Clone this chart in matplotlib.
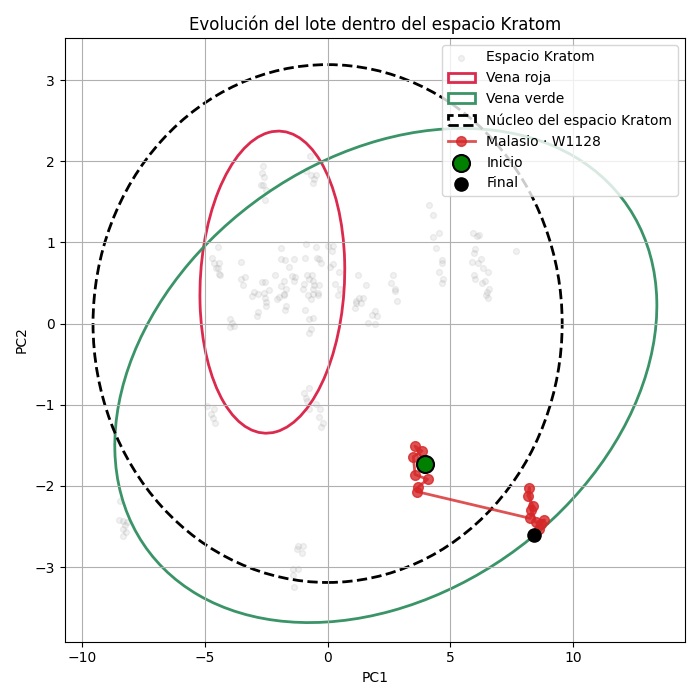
import numpy as np
import matplotlib
matplotlib.use('Agg')
import matplotlib.pyplot as plt
from matplotlib.patches import Ellipse

# --- Data ---
# Espacio Kratom (reference cloud)
space_x = [
    -2.65, -2.68, -2.60, -2.73, -2.65, -2.49, -2.55,
    -0.72, -0.88, -0.68, -0.48, -0.54, -0.58,
    -4.48, -4.69, -4.62, -4.44, -4.55, -4.47, -4.42, -4.39,
    -3.53, -3.53, -3.36, -3.44, -3.99, -3.91, -3.80, -3.97,
    -2.99, -3.06, -2.85, -2.68, -2.54, -2.57, -2.54, -2.52, -2.52, -2.38,
    -2.85, -2.88, -2.16, -2.04, -1.98, -1.79, -1.77, -1.90, -1.79, -1.70,
    -1.88, -1.90, -1.73, -1.59, -1.35, -1.45, -1.35, -1.32, -1.70, -1.74,
    -0.88, -0.90, -0.48, -0.42, -0.34, -0.26, -0.82, -0.64, -0.75, -0.61,
    -0.95, -1.02, -0.80, -0.69, -0.58, -0.41, -0.41, -0.54, -0.34, -0.61,
    -0.90, -0.77, -0.61, -0.68, -0.75,
    0.01, 0.20, 0.18, 0.23, 0.10, 0.45, 0.31, 0.50, 0.41,
    1.22, 1.55, 1.13, 1.15, 1.29, 1.45, 1.37, 1.15, 1.81, 1.92, 2.00, 1.63, 1.92,
    2.65, 2.57, 2.73, 2.74, 2.81,
    4.14, 4.28, 4.52, 4.28, 4.40, 4.65, 4.65, 4.55, 4.71, 4.65,
    5.91, 6.18, 6.10, 6.00, 5.95, 5.87, 6.11, 6.24, 6.32, 6.52, 5.98, 6.01,
    6.39, 6.30, 6.59, 6.49, 6.45, 6.53, 7.65,
    -4.89, -4.62, -4.76, -4.66, -4.58,
    -0.96, -0.75, -0.88, -0.82, -0.75, -0.48, -0.30, -0.37, -0.20, -0.26,
    -8.45, -8.48, -8.34, -8.18, -8.25, -8.32, -8.21, -8.34,
    -1.19, -1.01, -1.23, -1.05, -1.39, -1.19, -1.42, -1.35,
]
space_y = [
    1.94, 1.86, 1.80, 1.71, 1.71, 1.64, 1.52,
    2.07, 1.88, 1.83, 1.83, 1.78, 1.73,
    0.94, 0.81, 0.75, 0.74, 0.69, 0.68, 0.61, 0.60,
    0.76, 0.55, 0.57, 0.47, 0.06, 0.01, -0.03, -0.04,
    0.39, 0.34, 0.36, 0.51, 0.51, 0.38, 0.32, 0.26, 0.22, 0.41,
    0.14, 0.09, 0.60, 0.30, 0.33, 0.35, 0.36, 0.46, 0.52, 0.42,
    0.93, 0.80, 0.78, 0.70, 0.79, 0.59, 0.52, 0.57, 0.21, 0.17,
    0.98, 0.81, 0.94, 0.81, 0.79, 0.75, 0.60, 0.60, 0.55, 0.53,
    0.49, 0.43, 0.35, 0.30, 0.37, 0.35, 0.38, 0.48, 0.48, 0.42,
    0.17, 0.06, 0.07, -0.07, -0.12,
    0.95, 0.95, 0.89, 0.73, 0.70, 0.64, 0.49, 0.43, 0.35,
    0.60, 0.48, 0.19, 0.25, 0.32, 0.32, 0.25, 0.28, 0.10, 0.15, 0.09, 0.01, -0.01,
    0.60, 0.50, 0.43, 0.40, 0.28,
    1.46, 1.34, 1.12, 1.07, 0.93, 0.78, 0.74, 0.64, 0.55, 0.50,
    1.12, 1.09, 1.08, 0.92, 0.87, 0.76, 0.75, 0.79, 0.69, 0.63, 0.60, 0.55,
    0.52, 0.50, 0.42, 0.39, 0.35, 0.31, 0.89,
    -1.02, -1.05, -1.12, -1.16, -1.23,
    -0.85, -0.80, -0.92, -0.96, -1.05, -0.99, -1.05, -1.15, -1.23, -1.27,
    -2.19, -2.42, -2.43, -2.45, -2.48, -2.53, -2.57, -2.62,
    -2.74, -2.74, -2.78, -2.83, -3.02, -3.03, -3.10, -3.24,
]

# Ellipses: center, width, height, angle
red_center = (-2.25, 0.51)
red_size = (5.91, 3.70)
red_angle = 5.0

green_center = (2.37, -0.64)
green_size = (22.14, 5.82)
green_angle = 4.8

core_center = (0.0, 0.0)
core_size = (19.1, 6.38)
core_angle = 0.0

# Trajectory Malasio · W1128
traj_x = [3.97, 3.56, 3.84, 3.49, 3.56, 4.07, 3.70, 3.63,
          8.25, 8.38, 8.15, 8.21, 8.30, 8.48, 8.83, 8.70, 8.59, 8.40]
traj_y = [-1.73, -1.51, -1.57, -1.64, -1.86, -1.92, -2.01, -2.07,
          -2.40, -2.25, -2.12, -2.02, -2.30, -2.45, -2.42, -2.47, -2.53, -2.61]

# --- Plot ---
fig, ax = plt.subplots(figsize=(7, 7), dpi=100)

ax.scatter(space_x, space_y, s=18, color='gray', alpha=0.11, label='Espacio Kratom')

ax.add_patch(Ellipse(red_center, red_size[0], red_size[1], angle=red_angle,
                     fill=False, edgecolor='#dc2a4e', linewidth=2, label='Vena roja'))
ax.add_patch(Ellipse(green_center, green_size[0], green_size[1], angle=green_angle,
                     fill=False, edgecolor='#3a9468', linewidth=2, label='Vena verde'))
ax.add_patch(Ellipse(core_center, core_size[0], core_size[1], angle=core_angle,
                     fill=False, edgecolor='black', linestyle='--', linewidth=2,
                     label='Núcleo del espacio Kratom'))

ax.plot(traj_x, traj_y, '-o', color='#d62728', alpha=0.8, linewidth=2, markersize=7,
        label='Malasio · W1128')
ax.scatter(traj_x[0], traj_y[0], s=150, color='green', edgecolor='black', linewidth=1.5,
           zorder=5, label='Inicio')
ax.scatter(traj_x[-1], traj_y[-1], s=90, color='black', zorder=5, label='Final')

ax.set_xlim(-10.7, 14.55)
ax.set_ylim(-3.92, 3.52)
ax.set_xlabel('PC1')
ax.set_ylabel('PC2')
ax.set_title('Evolución del lote dentro del espacio Kratom')
ax.grid(True)
ax.legend(loc='upper right')

plt.tight_layout()
plt.savefig('out.png', dpi=100)
